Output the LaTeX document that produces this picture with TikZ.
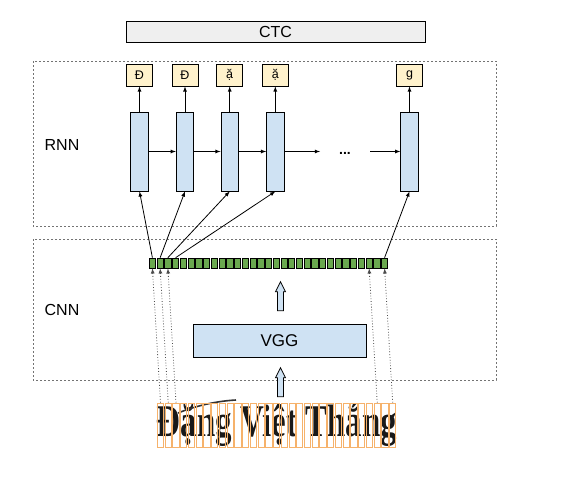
\documentclass[tikz,border=0pt]{standalone}
\usepackage{fontspec}
\setmainfont{Liberation Sans}
\newfontfamily\scanfont{Liberation Serif}
\definecolor{cellblue}{HTML}{CFE2F3}
\definecolor{outyellow}{HTML}{FFF2CC}
\definecolor{featgreen}{HTML}{6AA84F}
\definecolor{ctcgray}{HTML}{EFEFEF}
\definecolor{sliceorange}{HTML}{F6B26B}
\begin{document}
\begin{tikzpicture}[x=1pt,y=-1pt,line width=0.8pt,
    region/.style={draw=black!55,dash pattern=on 2pt off 2pt,line width=0.6pt},
    rnncell/.style={draw,fill=cellblue,minimum width=17.5pt,minimum height=79pt,inner sep=0pt},
    outbox/.style={draw,fill=outyellow,minimum width=26pt,minimum height=22pt,inner sep=0pt,font=\fontsize{12.5}{12.5}\selectfont},
    featcell/.style={draw,fill=featgreen,minimum width=6.2pt,minimum height=10pt,inner sep=0pt,line width=0.7pt},
    slicebox/.style={draw=sliceorange,minimum width=6.2pt,minimum height=44pt,inner sep=0pt,line width=0.9pt}]
        \useasboundingbox (0,0) rectangle (565,479);
        \draw[region] (33,61) rectangle (496,226);
        \draw[region] (33,239) rectangle (496,380);
        \node[font=\fontsize{16}{16}\selectfont] (rnnlabel) at (62,145) {RNN};
        \node[font=\fontsize{16}{16}\selectfont] (cnnlabel) at (62,310) {CNN};
        \node[draw,fill=ctcgray,minimum width=299pt,minimum height=21pt,font=\fontsize{16}{16}\selectfont] (ctc) at (275.5,31.5) {CTC};

        \foreach \x/\c [count=\i] in {139.5/Đ,185/Đ,229.7/ặ,275.3/ặ,409.5/g} \node[outbox] (out\i) at (\x,75) {\c};
        \foreach \x [count=\i] in {139.5,185,229.7,275.3,409.5} \node[rnncell] (rnn\i) at (\x,151.5) {};
        \foreach \i in {1,...,5} \draw[-latex] (rnn\i) -- (out\i);
        \foreach \i/\j in {1/2,2/3,3/4} \draw[-latex] (rnn\i) -- (rnn\j);
        \coordinate (gapleft) at (320,151.5);
        \coordinate (gapright) at (370,151.5);
        \draw[-latex] (rnn4) -- (gapleft);
        \draw[-latex] (gapright) -- (rnn5);
        \node[font=\fontsize{14}{14}\selectfont\bfseries] (dots) at (345,153) {...};

        \foreach \i in {1,...,31} \node[featcell] (cell\i) at ({152.4+(\i-1)*7.74},263) {};
        \node[draw,fill=cellblue,minimum width=173pt,minimum height=33pt,font=\fontsize{17}{17}\selectfont] (vgg) at (279.5,340.5) {VGG};
        % hollow arrows
        \foreach \y in {310.7,396.7} \draw[fill=cellblue] (277.5,\y) -- (277.5,\y-19) -- (275.5,\y-19) -- (280.5,\y-29) -- (285.5,\y-19) -- (283.5,\y-19) -- (283.5,\y) -- cycle;

        \node[inner sep=0pt,text=black!90] (word) at (277,425.5) {\resizebox*{240pt}{43pt}{\scanfont\bfseries Đặng Việt Thắng}};
        \draw[line width=1.6pt,black!80] (178,413) .. controls (198,405) and (218,401) .. (236,400);
        \foreach \i in {1,...,31} \node[slicebox] (slice\i) at ({160.5+(\i-1)*7.74},425) {};

        \foreach \i in {1,...,4} \draw[-latex] (cell\i.north) -- (rnn\i.south);
        \draw[-latex] (cell31.north) -- (rnn5.south);
        \foreach \i in {1,2,3,29,31} \draw[dotted,black!70,-latex] (slice\i.north) -- (cell\i.south);
    \end{tikzpicture}
\end{document}
